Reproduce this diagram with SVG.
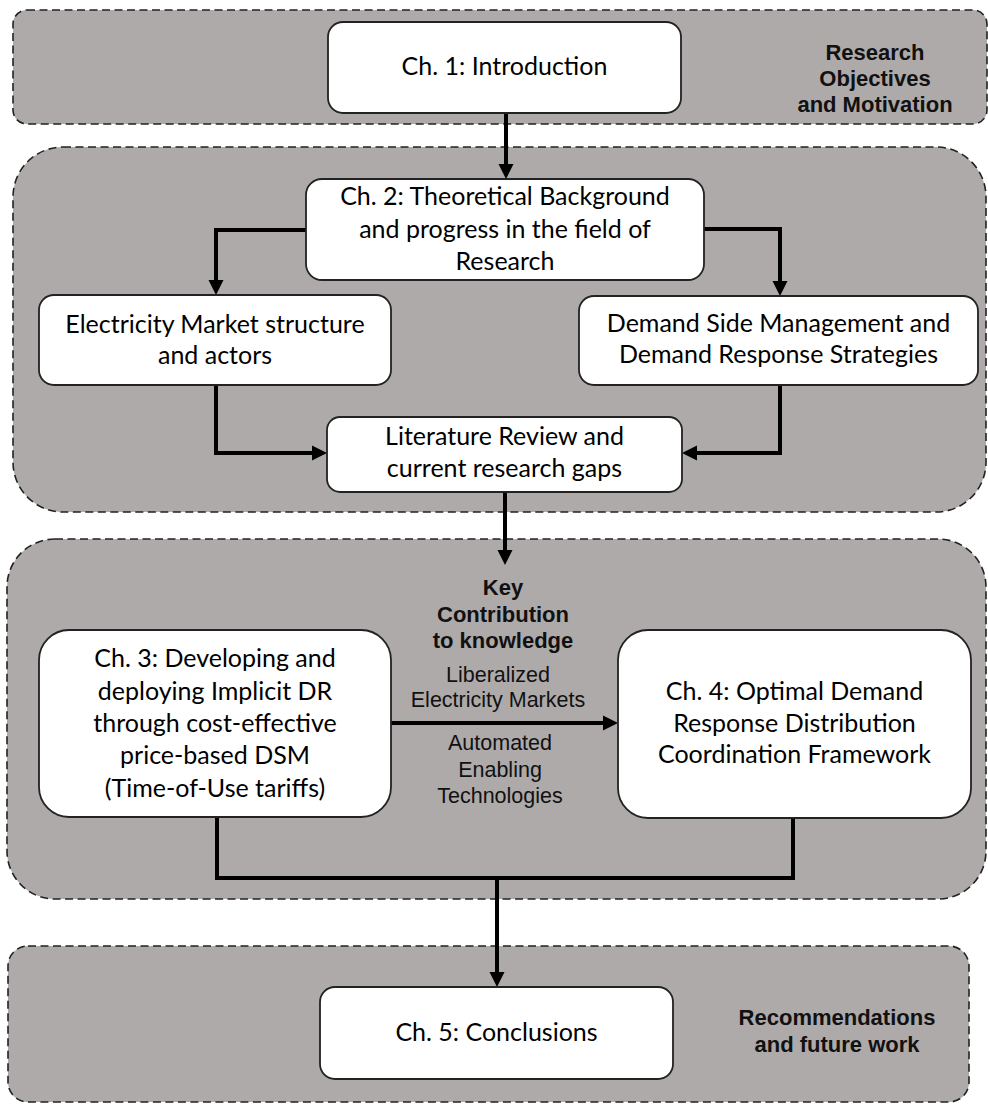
<svg xmlns="http://www.w3.org/2000/svg" width="988" height="1104" viewBox="0 0 988 1104">
<defs>
<style>
.band{fill:#aeaaaa;stroke:#222;stroke-width:1.6;stroke-dasharray:8 4.5}
.box{fill:#fff;stroke:#222;stroke-width:1.8}
.t{font-family:Lato,"Open Sans",sans-serif;font-size:25px;fill:#000;text-anchor:middle}
.b{font-family:"Liberation Sans",Arial,sans-serif;font-weight:bold;font-size:22px;fill:#111;text-anchor:middle}
.r{font-family:"Liberation Sans",Arial,sans-serif;font-size:21.5px;fill:#111;text-anchor:middle}
.c{fill:none;stroke:#000;stroke-width:4}
</style>
<marker id="ah" markerUnits="userSpaceOnUse" markerWidth="16" markerHeight="16" refX="0" refY="7.5" orient="auto" viewBox="0 0 16 15">
<path d="M0,0 L15,7.5 L0,15 z" fill="#000"/>
</marker>
</defs>
<g id="bands">
<rect id="band1" class="band" x="13" y="10" width="974" height="114" rx="14"/>
<rect id="band2" class="band" x="13" y="147" width="973" height="365" rx="50"/>
<rect id="band3" class="band" x="7" y="539" width="979" height="360" rx="48"/>
<rect id="band4" class="band" x="8" y="946" width="961" height="156" rx="20"/>
</g>
<g id="band-labels">
<text class="b" x="875" y="60">Research</text>
<text class="b" x="875" y="86">Objectives</text>
<text class="b" x="875" y="112">and Motivation</text>
<text class="b" x="837" y="1025">Recommendations</text>
<text class="b" x="837" y="1052">and future work</text>
</g>
<g id="connectors">
<path class="c" d="M506,113 V164" marker-end="url(#ah)"/>
<path class="c" d="M306,230 H216 V280" marker-end="url(#ah)"/>
<path class="c" d="M704,229 H780 V281" marker-end="url(#ah)"/>
<path class="c" d="M216,385 V453 H312" marker-end="url(#ah)"/>
<path class="c" d="M780,385 V453 H697" marker-end="url(#ah)"/>
<path class="c" d="M505,492 V550" marker-end="url(#ah)"/>
<path class="c" d="M391,723 H603" marker-end="url(#ah)"/>
<path class="c" d="M217,817 V878 H793 V818"/>
<path class="c" d="M497,878 V972" marker-end="url(#ah)"/>
</g>
<g id="ch1">
<rect class="box" x="328" y="22" width="353" height="91" rx="15"/>
<text class="t" x="504.5" y="75">Ch. 1: Introduction</text>
</g>
<g id="ch2">
<rect class="box" x="306" y="179" width="398" height="101" rx="16"/>
<text class="t" x="505" y="205">Ch. 2: Theoretical Background</text>
<text class="t" x="505" y="238">and progress in the field of</text>
<text class="t" x="505" y="270">Research</text>
</g>
<g id="electricity-market">
<rect class="box" x="39" y="295" width="352" height="90" rx="15"/>
<text class="t" x="215" y="333">Electricity Market structure</text>
<text class="t" x="215" y="364">and actors</text>
</g>
<g id="dsm">
<rect class="box" x="579" y="296" width="399" height="89" rx="15"/>
<text class="t" x="778.5" y="332">Demand Side Management and</text>
<text class="t" x="778.5" y="363">Demand Response Strategies</text>
</g>
<g id="literature">
<rect class="box" x="327" y="417" width="355" height="75" rx="13"/>
<text class="t" x="504.5" y="445">Literature Review and</text>
<text class="t" x="504.5" y="477">current research gaps</text>
</g>
<g id="key-contribution">
<text class="b" x="503" y="595">Key</text>
<text class="b" x="503" y="622">Contribution</text>
<text class="b" x="503" y="648">to knowledge</text>
<text class="r" x="498" y="682">Liberalized</text>
<text class="r" x="498" y="707">Electricity Markets</text>
<text class="r" x="500" y="750">Automated</text>
<text class="r" x="500" y="777">Enabling</text>
<text class="r" x="500" y="803">Technologies</text>
</g>
<g id="ch3">
<rect class="box" x="39" y="630" width="352" height="187" rx="30"/>
<text class="t" x="215" y="667">Ch. 3: Developing and</text>
<text class="t" x="215" y="700">deploying Implicit DR</text>
<text class="t" x="215" y="732">through cost-effective</text>
<text class="t" x="215" y="764">price-based DSM</text>
<text class="t" x="215" y="797">(Time-of-Use tariffs)</text>
</g>
<g id="ch4">
<rect class="box" x="618" y="630" width="353" height="188" rx="30"/>
<text class="t" x="794.5" y="700">Ch. 4: Optimal Demand</text>
<text class="t" x="794.5" y="732">Response Distribution</text>
<text class="t" x="794.5" y="763">Coordination Framework</text>
</g>
<g id="ch5">
<rect class="box" x="320" y="987" width="353" height="92" rx="15"/>
<text class="t" x="496.5" y="1041">Ch. 5: Conclusions</text>
</g>
</svg>
